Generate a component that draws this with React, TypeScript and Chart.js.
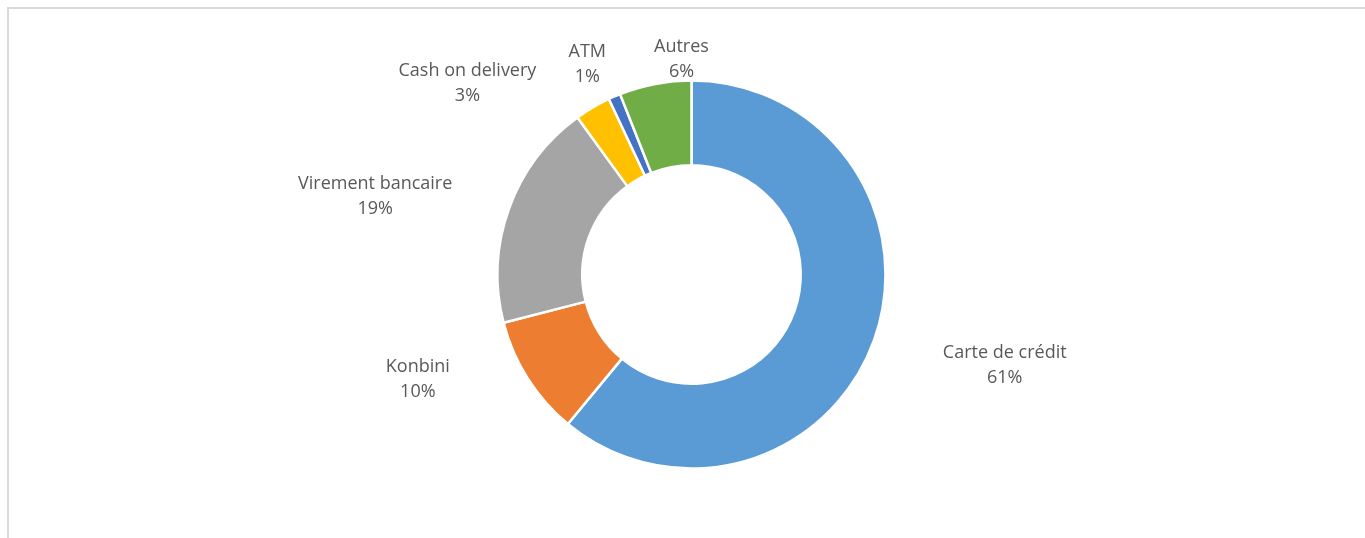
import React, { useEffect, useRef } from "react";
import { Chart, registerables } from "chart.js";

Chart.register(...registerables);

const categories = ["Carte de crédit", "Konbini", "Virement bancaire", "Cash on delivery", "ATM", "Autres"];
const values = [61, 10, 19, 3, 1, 6];
const percentLabels = ["61%", "10%", "19%", "3%", "1%", "6%"];
const colors = ["#5B9BD5", "#ED7D31", "#A5A5A5", "#FFC000", "#4472C4", "#70AD47"];

// label block centres, in units of the outer radius, relative to the doughnut centre
const labelOffsets: [number, number][] = [
  [1.623, 0.462],
  [-1.418, 0.535],
  [-1.639, -0.41],
  [-1.161, -1.0],
  [-0.54, -1.094],
  [-0.052, -1.122],
];

const labelPlugin = {
  id: "outsideLabels",
  afterDatasetsDraw(chart: any) {
    const meta = chart.getDatasetMeta(0);
    const arc = meta.data[0];
    if (!arc) return;
    const { x: cx, y: cy, outerRadius } = arc.getProps(["x", "y", "outerRadius"], true);
    const R = outerRadius - 1;
    const ctx = chart.ctx;
    ctx.save();
    ctx.fillStyle = "#595959";
    ctx.font = '18px "Open Sans"';
    ctx.textAlign = "center";
    ctx.textBaseline = "alphabetic";
    categories.forEach((name, i) => {
      const [dx, dy] = labelOffsets[i];
      const x = cx + dx * R;
      const y = cy + dy * R;
      ctx.fillText(name, x, y - 12.5 + 6.5);
      ctx.fillText(percentLabels[i], x, y + 12.5 + 6.5);
    });
    ctx.restore();
  },
};

export default function App() {
  const ref = useRef<HTMLCanvasElement | null>(null);
  useEffect(() => {
    if (!ref.current) return;
    const chart = new Chart(ref.current, {
      type: "doughnut",
      data: {
        labels: categories,
        datasets: [
          {
            data: values,
            backgroundColor: colors,
            borderColor: "#FFFFFF",
            borderWidth: 2.5,
            hoverOffset: 0,
          },
        ],
      },
      options: {
        responsive: false,
        animation: false,
        radius: 194,
        cutout: "56.3%",
        layout: { padding: { left: 400, right: 382, top: 11, bottom: 0 } },
        plugins: {
          legend: { display: false },
          tooltip: { enabled: false },
          title: { display: false },
        },
      },
      plugins: [labelPlugin],
    });
    return () => chart.destroy();
  }, []);
  return (
    <>
      <div
        style={{
          position: "fixed",
          left: 7,
          top: 7,
          width: 2000,
          height: 1000,
          borderLeft: "2px solid #d9d9d9",
          borderTop: "2px solid #d9d9d9",
          boxSizing: "border-box",
        }}
      />
      <canvas
        ref={ref}
        width={1365}
        height={538}
        style={{ position: "fixed", left: 0, top: 0, width: 1365, height: 538 }}
      />
    </>
  );
}
